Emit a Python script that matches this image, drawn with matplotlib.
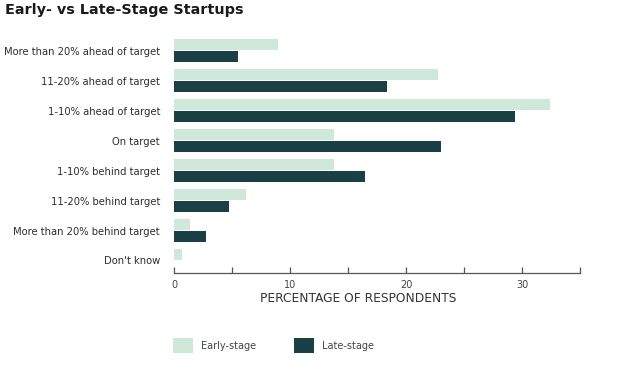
import matplotlib
matplotlib.use("Agg")
import matplotlib.pyplot as plt
import numpy as np
from matplotlib.patches import Patch

categories = [
    "More than 20% ahead of target",
    "11-20% ahead of target",
    "1-10% ahead of target",
    "On target",
    "1-10% behind target",
    "11-20% behind target",
    "More than 20% behind target",
    "Don't know",
]
early_stage = [9.0, 22.8, 32.4, 13.8, 13.8, 6.2, 1.4, 0.7]
late_stage = [5.5, 18.4, 29.4, 23.0, 16.5, 4.7, 2.8, 0.0]
series_names = ["Early-stage", "Late-stage"]
x_ticks = [0, 5, 10, 15, 20, 25, 30, 35]
x_tick_labels = ["0", "", "10", "", "20", "", "30", ""]

early_color = "#cfe8da"
late_color = "#1a4045"
text_color = "#2e2e2e"

plt.rcParams["font.family"] = ["DejaVu Sans"]

W, H = 630, 374
fig = plt.figure(figsize=(W / 100, H / 100), dpi=100)

ax_left, ax_right = 174, 580
ax_top, ax_bottom = 35.4, 273
ax = fig.add_axes([ax_left / W, 1 - ax_bottom / H,
                   (ax_right - ax_left) / W, (ax_bottom - ax_top) / H])

y = np.arange(len(categories))
bar_h = 0.367
off = 0.2
ax.barh(y - off, early_stage, height=bar_h, color=early_color, label=series_names[0])
ax.barh(y + off, late_stage, height=bar_h, color=late_color, label=series_names[1])

ax.set_ylim(7.42, -0.52)
ax.set_xlim(0, 35)

ax.set_yticks(y)
ax.set_yticklabels(categories, fontsize=7.2, color=text_color)
ax.tick_params(axis="y", length=0, pad=10)
for lbl in ax.get_yticklabels():
    lbl.set_y(lbl.get_position()[1])

ax.set_xticks(x_ticks)
ax.set_xticklabels(x_tick_labels, fontsize=7, color="#444444")
ax.tick_params(axis="x", direction="in", length=4, width=0.9, color="#555555", pad=5)

for s in ["top", "right", "left"]:
    ax.spines[s].set_visible(False)
ax.spines["bottom"].set_color("#555555")
ax.spines["bottom"].set_linewidth(0.9)

ax.set_xlabel("PERCENTAGE OF RESPONDENTS", fontsize=8.8, color="#333333")
ax.xaxis.set_label_coords((358.5 - ax_left) / (ax_right - ax_left), -(293.5 - ax_bottom) / (ax_bottom - ax_top) - 0.02)
ax.xaxis.label.set_va("center")

fig.text(5 / W, 1 - 10 / H, "Early- vs Late-Stage Startups", fontsize=10.4,
         fontweight="bold", color="#1a1a1a", va="center", ha="left")

handles = [Patch(facecolor=early_color, edgecolor="none"),
           Patch(facecolor=late_color, edgecolor="none")]
fs = 7
px = fs * 100 / 72
fig.legend(handles, series_names, loc="center left",
           bbox_to_anchor=(173 / W, 1 - 345.5 / H), ncol=2, frameon=False,
           fontsize=fs, labelcolor="#444444", borderpad=0, borderaxespad=0,
           handlelength=20 / px, handleheight=19 / px, handletextpad=8 / px,
           columnspacing=3.9)

fig.savefig("out.png", dpi=100)
